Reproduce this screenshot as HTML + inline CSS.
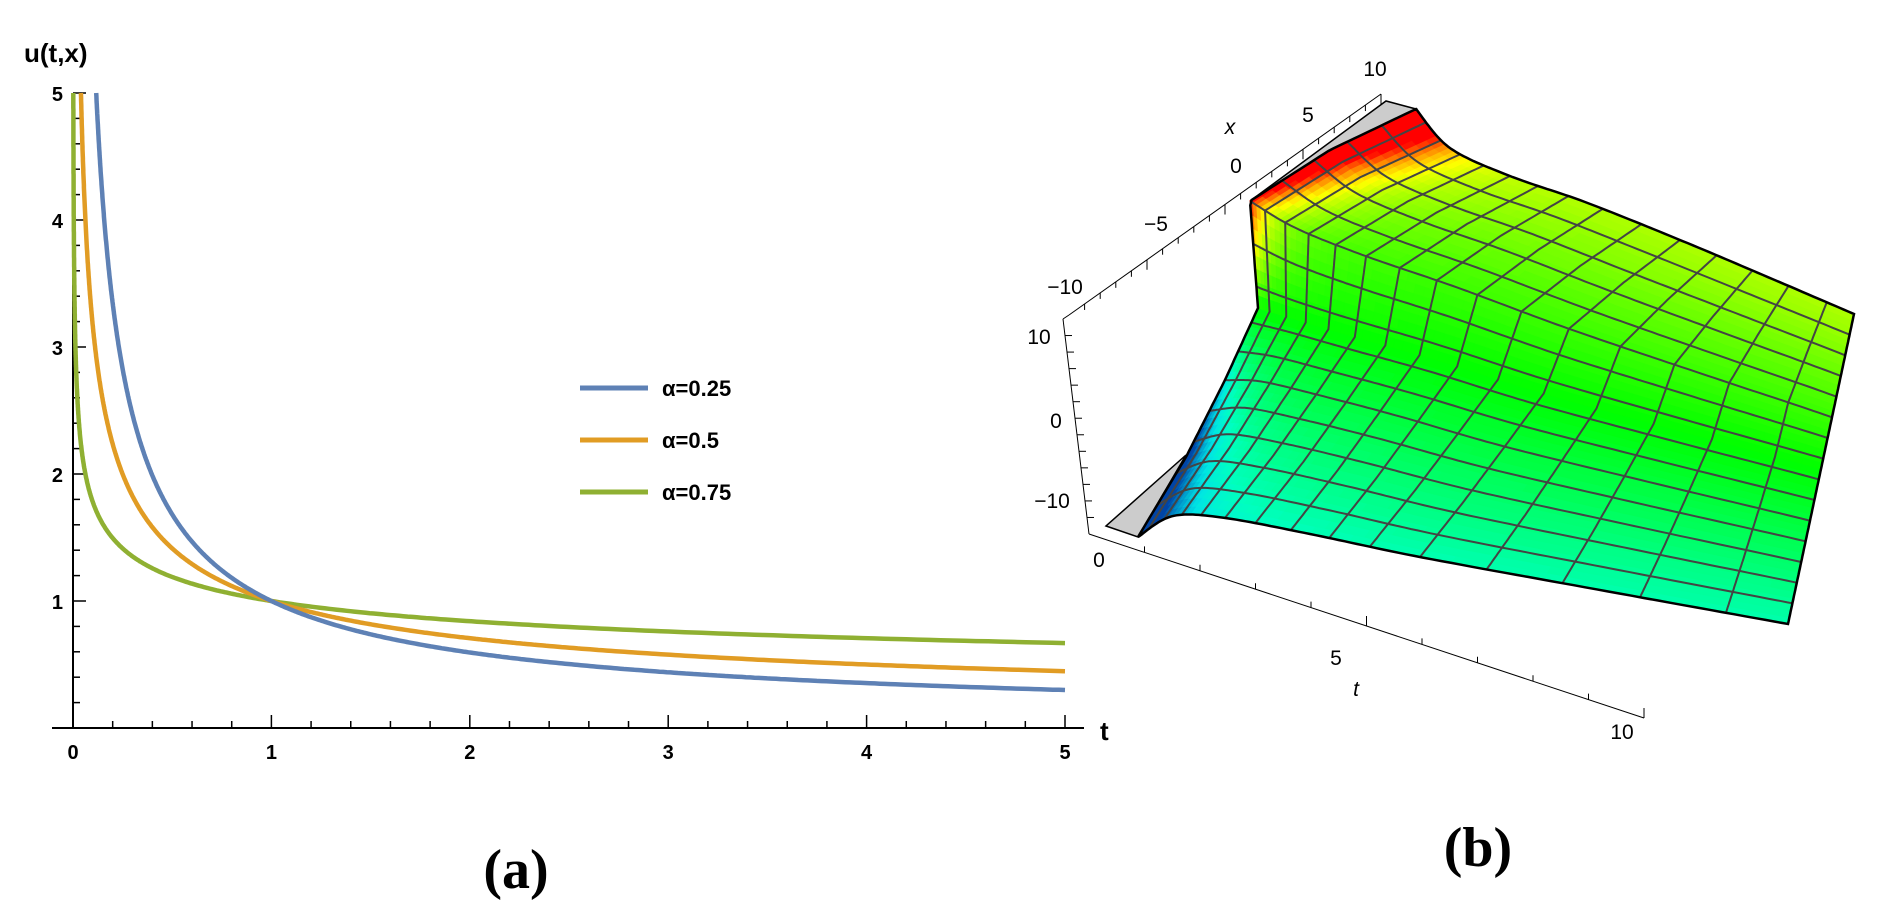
<!DOCTYPE html>
<html><head><meta charset="utf-8"><style>
html,body{margin:0;padding:0;background:#fff;}
svg{display:block}
text{font-family:"Liberation Sans",sans-serif;}
</style></head><body>
<svg id="s" width="1884" height="914" xmlns="http://www.w3.org/2000/svg">
<g id="left"></g>
<g id="right"></g>
<text x="516" y="888" font-weight="bold" font-size="56" text-anchor="middle" style="font-family:'Liberation Serif',serif">(a)</text>
<text x="1478" y="866" font-weight="bold" font-size="56" text-anchor="middle" style="font-family:'Liberation Serif',serif">(b)</text>
</svg>
<script>
var NS="http://www.w3.org/2000/svg";
function el(p,t,a,txt){var e=document.createElementNS(NS,t);for(var k in a)e.setAttribute(k,a[k]);if(txt!=null)e.textContent=txt;p.appendChild(e);return e;}
var L=document.getElementById('left');
function X(t){return 73+198.4*t;} function Y(u){return 728-127*u;}
el(L,'line',{x1:52,y1:728,x2:1084,y2:728,stroke:'#000','stroke-width':2});
el(L,'line',{x1:73,y1:728,x2:73,y2:93,stroke:'#000','stroke-width':2});
for(var i=0;i<=25;i++){var t=i*0.2,maj=(i%5==0);el(L,'line',{x1:X(t),y1:728,x2:X(t),y2:728-(maj?13:7),stroke:'#000','stroke-width':1.5});
 if(maj)el(L,'text',{x:X(t),y:759,'font-size':20,'font-weight':'bold','text-anchor':'middle'},String(i/5));}
for(var i=1;i<=25;i++){var u=i*0.2,maj=(i%5==0);if(Y(u)<92)break;el(L,'line',{x1:73,y1:Y(u),x2:73+(maj?13:7),y2:Y(u),stroke:'#000','stroke-width':1.5});
 if(maj)el(L,'text',{x:63,y:Y(u)+8,'font-size':20,'font-weight':'bold','text-anchor':'end'},String(i/5));}
el(L,'text',{x:24,y:62,'font-size':26,'font-weight':'bold'},'u(t,x)');
el(L,'text',{x:1100,y:740,'font-size':26,'font-weight':'bold'},'t');
var ser=[[0.25,'#5E81B5'],[0.5,'#E19C24'],[0.75,'#8FB032']];
ser.slice().reverse().forEach(function(s){var a=s[0],p=[];var t0=Math.pow(5,-1/(1-a));
 for(var k=0;k<=600;k++){var t=t0*Math.pow(5/t0,k/600);p.push(X(t).toFixed(1)+','+Y(Math.pow(t,a-1)).toFixed(1));}
 el(L,'polyline',{points:p.join(' '),fill:'none',stroke:s[1],'stroke-width':4.5});});
['0.25','0.5','0.75'].forEach(function(v,i){var y=388+52*i;el(L,'line',{x1:580,y1:y,x2:648,y2:y,stroke:ser[i][1],'stroke-width':5});
 el(L,'text',{x:662,y:y+8,'font-size':22,'font-weight':'bold'},'\u03B1='+v);});
var R=document.getElementById('right');
function spl(pts){return function(u){var n=pts.length-1,f=u*n,i=Math.min(n-1,Math.floor(f)),w=f-i;
 var p0=pts[Math.max(0,i-1)],p1=pts[i],p2=pts[i+1],p3=pts[Math.min(n,i+2)],o=[];
 for(var k=0;k<2;k++){o[k]=0.5*((2*p1[k])+(-p0[k]+p2[k])*w+(2*p0[k]-5*p1[k]+4*p2[k]-p3[k])*w*w+(-p0[k]+3*p1[k]-3*p2[k]+p3[k])*w*w*w);}return o;};}
function poly(pts){return function(u){var n=pts.length-1,f=u*n,i=Math.min(n-1,Math.floor(f)),w=f-i;return [pts[i][0]*(1-w)+pts[i+1][0]*w,pts[i][1]*(1-w)+pts[i+1][1]*w];};}
var Le=poly([[1138,537],[1186,457],[1225,380],[1258,308],[1250,201],[1330,150],[1416,109]]);
var Re=poly([[1788,624],[1854,314]]);
var Be=spl([[1138,537],[1173,516],[1225,518],[1310,534],[1420,557],[1600,590],[1788,624]]);
var Te=spl([[1416,109],[1450,148],[1510,176],[1585,202],[1680,240],[1770,278],[1854,314]]);
function P(s,r){var b=Be(s),t=Te(s),l=Le(r),q=Re(r),c00=Be(0),c10=Be(1),c01=Te(0),c11=Te(1);var o=[];
 for(var k=0;k<2;k++)o[k]=(1-r)*b[k]+r*t[k]+(1-s)*l[k]+s*q[k]-((1-s)*(1-r)*c00[k]+s*(1-r)*c10[k]+(1-s)*r*c01[k]+s*r*c11[k]);return o;}
function col(s,r){var k=0.34+2.7*Math.exp(-s*12);if(r<0.5)k=0.34+1.2*Math.exp(-s*8);var w=(r-0.5)*2*k;var h=120-120*w;if(h<0)h=0;if(h>215)h=215;var l=50;if(h>165)l=50-(h-165)*0.35;return 'hsl('+h.toFixed(0)+',100%,'+l+'%)';}
el(R,'polygon',{points:'1106,526 1138,537 1186,455',fill:'#ccc',stroke:'#000','stroke-width':1.5});
el(R,'polygon',{points:'1250,201 1386,101 1416,109 1330,150',fill:'#ccc',stroke:'#000','stroke-width':1.5});
var NS_=60,NR=48;
for(var i=0;i<NS_;i++)for(var j=0;j<NR;j++){var s0=i/NS_,s1=(i+1)/NS_,r0=j/NR,r1=(j+1)/NR;
 var a=P(s0,r0),b=P(s1,r0),c=P(s1,r1),d=P(s0,r1),cc=col((s0+s1)/2,(r0+r1)/2);
 el(R,'polygon',{points:[a,b,c,d].map(function(p){return p[0].toFixed(1)+','+p[1].toFixed(1);}).join(' '),fill:cc,stroke:cc,'stroke-width':0.8});}
for(var g=1;g<15;g++){var r=g/15,p=[];for(var k=0;k<=120;k++){var q=P(k/120,r);p.push(q[0].toFixed(1)+','+q[1].toFixed(1));}
 el(R,'polyline',{points:p.join(' '),fill:'none',stroke:'#444','stroke-width':2});}
for(var g=1;g<15;g++){var s=g/15,p=[];for(var k=0;k<=120;k++){var q=P(s,k/120);p.push(q[0].toFixed(1)+','+q[1].toFixed(1));}
 el(R,'polyline',{points:p.join(' '),fill:'none',stroke:'#444','stroke-width':2});}
var ol=[];for(var k=0;k<=100;k++)ol.push(Be(k/100));for(var k=0;k<=100;k++)ol.push(Re(k/100));for(var k=100;k>=0;k--)ol.push(Te(k/100));for(var k=100;k>=0;k--)ol.push(Le(k/100));
el(R,'polygon',{points:ol.map(function(p){return p[0].toFixed(1)+','+p[1].toFixed(1);}).join(' '),fill:'none',stroke:'#000','stroke-width':2.5});
[[1069,315,1381,94],[1063,319,1089,534],[1089,534,1644,718],[1063,319,1069,315]].forEach(function(l){el(R,'line',{x1:l[0],y1:l[1],x2:l[2],y2:l[3],stroke:'#000','stroke-width':1});});
for(var i=1;i<=20;i++){var f=i/20;var x=1069+312*f,y=315-221*f;el(R,'line',{x1:x,y1:y,x2:x,y2:y+(i%5==0?10:6),stroke:'#000','stroke-width':1});}
for(var i=1;i<=10;i++){var f=i/10;var x=1089+555*f,y=534+184*f;el(R,'line',{x1:x,y1:y,x2:x,y2:y-(i%5==0?10:6),stroke:'#000','stroke-width':1});}
for(var i=1;i<=12;i++){var f=i/13;var x=1063+26*f,y=319+215*f;el(R,'line',{x1:x,y1:y,x2:x+7,y2:y,stroke:'#000','stroke-width':1});}
[['10',1375,76],['5',1308,122],['0',1236,173],['\u22125',1156,231],['\u221210',1065,294],['10',1039,344],['0',1056,428],['\u221210',1052,508],['0',1099,567],['5',1336,665],['10',1622,739]].forEach(function(a){
 el(R,'text',{x:a[1],y:a[2],'font-size':21,'text-anchor':'middle'},a[0]);});
el(R,'text',{x:1230,y:134,'font-size':21,'font-style':'italic','text-anchor':'middle'},'x');
el(R,'text',{x:1356,y:696,'font-size':21,'font-style':'italic','text-anchor':'middle'},'t');
</script>
</body></html>
